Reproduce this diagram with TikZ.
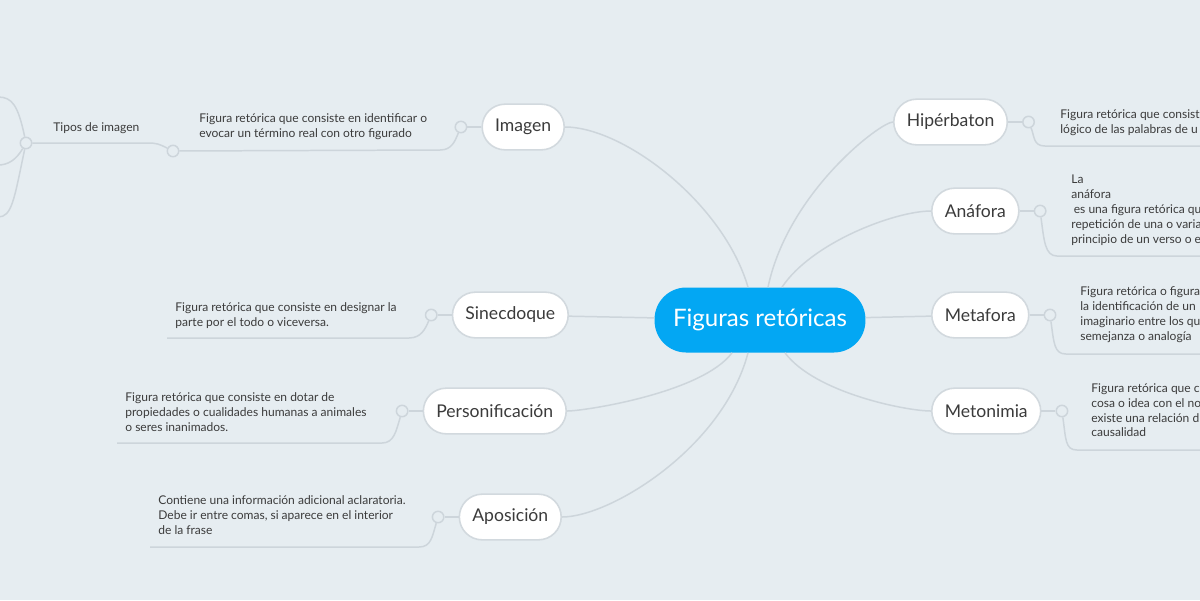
\documentclass[tikz,border=0pt]{standalone}
\usepackage{fontspec}
\setmainfont{Lato}
\usepackage{tikz}
\usetikzlibrary{positioning}
\definecolor{bgcol}{HTML}{E6EDF1}
\definecolor{linecol}{HTML}{CDD5DB}
\definecolor{rimcol}{HTML}{D2D9DE}
\definecolor{inkcol}{HTML}{3B3B3B}
\definecolor{rootcol}{HTML}{03A7F3}
\tikzstyle{edge}  =[draw=linecol, line width=0.85pt]
\tikzstyle{topic} =[draw=rimcol, fill=white, line width=0.9pt, rounded corners=13pt,
                    minimum height=26pt, inner xsep=7.4pt, text=inkcol,
                    font=\fontsize{10pt}{12pt}\selectfont]
\tikzstyle{knob}  =[circle, draw=linecol, fill=bgcol, line width=0.85pt,
                    minimum size=6.5pt, inner sep=0pt]
\tikzstyle{note}  =[anchor=north west, inner sep=0pt, align=left, text=inkcol,
                    font=\fontsize{6.85pt}{8.5pt}\selectfont]
\begin{document}
\begin{tikzpicture}[x=0.02cm, y=-0.02cm, node distance=0.28cm]
\useasboundingbox (0,0) rectangle (1200,600);
\clip (0,0) rectangle (1200,600);
\fill[bgcol] (0,0) rectangle (1200,600);
% central topic
\node (root) [fill=rootcol, rounded corners=18pt, minimum width=120pt, minimum height=37pt,
    text=white, font=\fontsize{13.7pt}{16pt}\selectfont] at (760,320) {Figuras retóricas};
% left topics
\node (img) [topic, anchor=east] at (565,127) {Imagen};
\node (sin) [topic, anchor=east] at (569,315) {Sinecdoque};
\node (per) [topic, anchor=east] at (567,411) {Personificación};
\node (apo) [topic, anchor=east] at (562,517) {Aposición};
% right topics
\node (hip) [topic, anchor=west] at (893,122) {Hipérbaton};
\node (ana) [topic, anchor=west] at (931,211) {Anáfora};
\node (mtf) [topic, anchor=west] at (931,315) {Metafora};
\node (mto) [topic, anchor=west] at (931,411) {Metonimia};
% knobs
\node (imgk) [knob, left=of img] {}; \node (sink) [knob, left=of sin] {};
\node (perk) [knob, left=of per] {}; \node (apok) [knob, left=of apo] {};
\node (hipk) [knob, right=of hip] {}; \node (anak) [knob, right=of ana] {};
\node (mtfk) [knob, right=of mtf] {}; \node (mtok) [knob, right=of mto] {};
\node (imgdk) [knob] at (173,151) {}; \node (tipk) [knob] at (26,143) {};
% notes
\node (imgd) [note] at (199,113) {Figura retórica que consiste en identificar o\\evocar un término real con otro figurado};
\node (tip) [note] at (53,122) {Tipos de imagen};
\node (sind) [note] at (175,302) {Figura retórica que consiste en designar la\\parte por el todo o viceversa.};
\node (perd) [note] at (125,392) {Figura retórica que consiste en dotar de\\propiedades o cualidades humanas a animales\\o seres inanimados.};
\node (apod) [note] at (158,495) {Contiene una información adicional aclaratoria.\\Debe ir entre comas, si aparece en el interior\\de la frase};
\node (hipd) [note] at (1060,109) {Figura retórica que consist\\lógico de las palabras de u};
\node (anad) [note] at (1071,175) {La\\anáfora\\\hspace*{0.05cm}es una figura retórica qu\\repetición de una o varia\\principio de un verso o e};
\node (mtfd) [note] at (1080,286) {Figura retórica o figura\\la identificación de un \\imaginario entre los qu\\semejanza o analogía};
\node (mtod) [note] at (1091,383) {Figura retórica que c\\cosa o idea con el no\\existe una relación d\\causalidad};
% free ends
\coordinate (hipe) at (1210,146); \coordinate (anae) at (1210,256);
\coordinate (mtfe) at (1210,354); \coordinate (mtoe) at (1210,450);
\coordinate (sine) at (167,338); \coordinate (pere) at (117,443);
\coordinate (apoe) at (150,547);
\coordinate (t1) at (-2,97); \coordinate (t2) at (-2,165); \coordinate (t3) at (-2,217);
% branches from the centre
\draw[edge] ([xshift=-0.24cm]root.north) .. controls +(-25,-85) and +(100,0) .. (img);
\draw[edge] ([xshift=0.16cm]root.north) .. controls +(20,-95) and +(-70,0) .. (hip);
\draw[edge] ([xshift=0.44cm]root.north) .. controls +(30,-45) and +(-80,0) .. (ana);
\draw[edge] (root) -- (mtf); \draw[edge] (root) -- (sin);
\draw[edge] ([xshift=0.5cm]root.south) .. controls +(30,40) and +(-80,0) .. (mto);
\draw[edge] ([xshift=-0.56cm]root.south) .. controls +(-30,40) and +(90,0) .. (per);
\draw[edge] ([xshift=-0.24cm]root.south) .. controls +(-25,95) and +(100,0) .. (apo);
% topics to knobs
\foreach \t in {img,sin,per,apo,hip,ana,mtf,mto} \draw[edge] (\t) -- (\t k);
% knobs to notes
\draw[edge] (imgk) .. controls +(-6,14) and +(12,0) .. (440,150) -- (imgdk);
\draw[edge] (sink) .. controls +(-6,14) and +(12,0) .. (409,338) -- (sine);
\draw[edge] (perk) .. controls +(-6,20) and +(12,0) .. (382,443) -- (pere);
\draw[edge] (apok) .. controls +(-6,20) and +(12,0) .. (419,547) -- (apoe);
\draw[edge] (hipk) .. controls +(6,14) and +(-12,0) .. (1045,146) -- (hipe);
\draw[edge] (anak) .. controls +(4,30) and +(-12,0) .. (1057,256) -- (anae);
\draw[edge] (mtfk) .. controls +(4,28) and +(-12,0) .. (1066,354) -- (mtfe);
\draw[edge] (mtok) .. controls +(4,28) and +(-12,0) .. (1077,450) -- (mtoe);
\draw[edge] (imgdk) .. controls +(-14,-7) and +(10,0) .. (147,143) -- (tipk);
\draw[edge] (tipk) .. controls (18,105) and (12,97) .. (t1);
\draw[edge] (tipk) .. controls (16,160) and (8,165) .. (t2);
\draw[edge] (tipk) .. controls (14,200) and (12,217) .. (t3);
\end{tikzpicture}
\end{document}
